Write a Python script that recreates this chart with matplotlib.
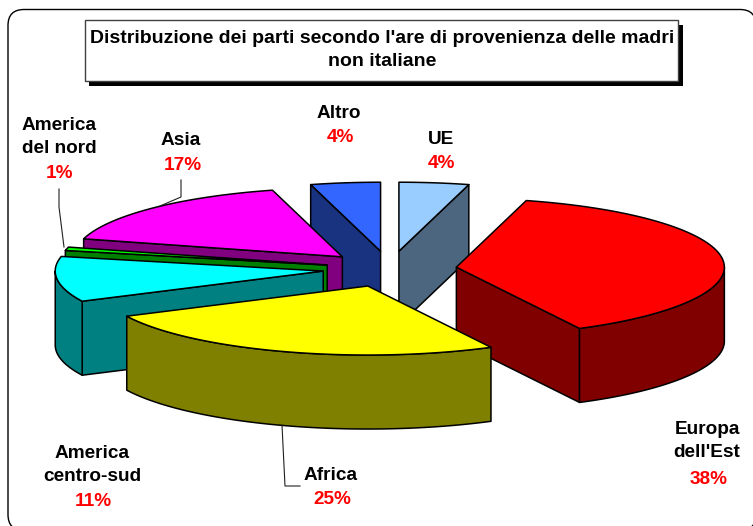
import numpy as np
import matplotlib
matplotlib.use("Agg")
import matplotlib.pyplot as plt
from matplotlib.patches import Polygon, FancyBboxPatch, Rectangle

# data, clockwise from twelve o'clock
categories = ["UE", "Europa\ndell'Est", "Africa", "America\ncentro-sud", "America\ndel nord", "Asia", "Altro"]
shares = [4.2, 38.2, 25.4, 10.6, 0.8, 16.6, 4.2]
colors = ["#99CCFF", "#FF0000", "#FFFF00", "#00FFFF", "#00FF00", "#FF00FF", "#3366FF"]
side_colors = ["#4D6680", "#800000", "#808000", "#008080", "#008000", "#800080", "#1A3380"]
title = "Distribuzione dei parti secondo l'are di provenienza delle madri\nnon italiane"

# how far each slice is pulled out of the pie
explode = [0.26, 0.25, 0.26, 0.25, 0.24, 0.25, 0.26]

# label centres in pixels: (name x, name y, percent x, percent y)
label_pos = [
    (441, 139.5, 441, 164),
    (707, 441, 709, 479),
    (331, 475, 332, 499),
    (92, 465, 93, 502),
    (59, 137, 60, 174),
    (181, 140.5, 183, 166),
    (339, 114, 340, 138),
]
# leader lines
leaders = {
    "America\ndel nord": ([59, 59, 64], [189, 207, 247]),
    "Asia": ([181, 181, 160], [180, 197, 206]),
    "Africa": ([282, 285, 300], [425, 486, 486]),
}

# pie projection
center_x, center_y = 389.75, 269
radius_x, radius_y = 268, 69
depth = 74

plt.rcParams["font.family"] = ["Liberation Sans", "DejaVu Sans"]
plt.rcParams["font.weight"] = "bold"

fig = plt.figure(figsize=(7.53, 5.26), dpi=100)
ax = fig.add_axes([0, 0, 1, 1])
ax.set_xlim(0, 753)
ax.set_ylim(526, 0)
ax.axis("off")

# chart frame
ax.add_patch(FancyBboxPatch((8, 9.5), 748, 521, boxstyle="round,pad=0,rounding_size=16",
                            fc="white", ec="black", lw=1.0))

# title box with its shadow
ax.add_patch(Rectangle((89, 25), 594, 61, fc="black", ec="none"))
ax.add_patch(Rectangle((85, 20), 593, 60.5, fc="white", ec="#404040", lw=1.0))
ax.text(382, 50, title, ha="center", va="center", fontsize=14, linespacing=1.45, color="black")


def rim(theta, cx, cy):
    return cx + radius_x * np.sin(theta), cy - radius_y * np.cos(theta)


fractions = np.array(shares) / sum(shares)
ends = np.cumsum(fractions) * 2 * np.pi
starts = ends - fractions * 2 * np.pi

slices = []
for i in range(len(shares)):
    mid = (starts[i] + ends[i]) / 2
    cx = center_x + explode[i] * radius_x * np.sin(mid)
    cy = center_y - explode[i] * radius_y * np.cos(mid)
    slices.append((cy, i, cx, mid))

# back slices first
for cy, i, cx, mid in sorted(slices):
    t0, t1 = starts[i], ends[i]
    side = side_colors[i]
    mx, my = np.sin(mid) * radius_x, -np.cos(mid) * radius_y

    # straight cut faces, only those turned to the viewer
    for t in (t0, t1):
        dx, dy = np.sin(t) * radius_x, -np.cos(t) * radius_y
        nx, ny = -dy, dx
        if nx * mx + ny * my > 0:
            nx, ny = -nx, -ny
        if ny > 0:
            px, py = rim(t, cx, cy)
            ax.add_patch(Polygon([(cx, cy), (px, py), (px, py + depth), (cx, cy + depth)],
                                 fc=side, ec="black", lw=1.1, joinstyle="round"))

    # outer wall on the front half
    a = max(t0, np.pi / 2)
    b = min(t1, 3 * np.pi / 2)
    if b > a:
        tt = np.linspace(a, b, 80)
        xs, ys = rim(tt, cx, cy)
        wall = list(zip(xs, ys)) + list(zip(xs[::-1], ys[::-1] + depth))
        ax.add_patch(Polygon(wall, fc=side, ec="black", lw=1.1, joinstyle="round"))

    # top face
    tt = np.linspace(t0, t1, 80)
    xs, ys = rim(tt, cx, cy)
    ax.add_patch(Polygon([(cx, cy)] + list(zip(xs, ys)), fc=colors[i], ec="black", lw=1.1, joinstyle="round"))

for name, (lx, ly) in leaders.items():
    ax.plot(lx, ly, color="#202020", lw=0.8)

for name, share, pos in zip(categories, shares, label_pos):
    ax.text(pos[0], pos[1], name, ha="center", va="center", fontsize=13.7, linespacing=1.5, color="black")
    ax.text(pos[2], pos[3], f"{round(share)}%", ha="center", va="center", fontsize=13.7, color="#FF0000")

fig.savefig("out.png", dpi=100)
